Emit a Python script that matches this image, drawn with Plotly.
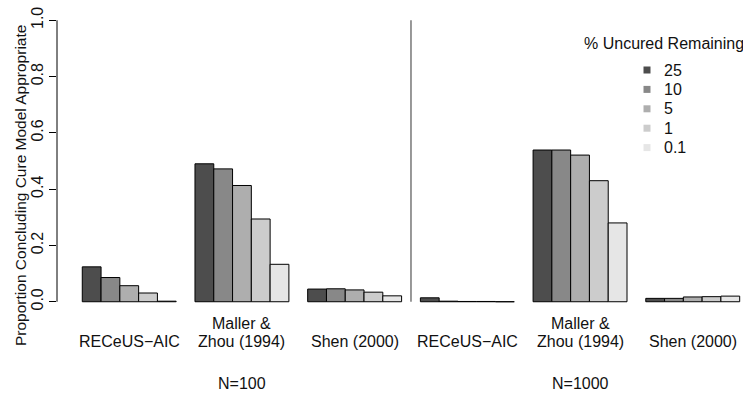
import plotly.graph_objects as go

# ---- data ----
method_labels = ["RECeUS\u2212AIC", "Maller &<br>Zhou (1994)", "Shen (2000)",
                 "RECeUS\u2212AIC", "Maller &<br>Zhou (1994)", "Shen (2000)"]
sample_labels = ["N=100", "N=1000"]
series_names = ["25", "10", "5", "1", "0.1"]
series_values = {
    "25":  [0.124, 0.490, 0.045, 0.014, 0.539, 0.012],
    "10":  [0.086, 0.472, 0.046, 0.002, 0.539, 0.012],
    "5":   [0.057, 0.413, 0.042, 0.001, 0.521, 0.017],
    "1":   [0.031, 0.294, 0.034, 0.001, 0.430, 0.018],
    "0.1": [0.002, 0.133, 0.021, 0.000, 0.280, 0.020],
}
series_colors = ["#4D4D4D", "#888888", "#AEAEAE", "#CCCCCC", "#E6E6E6"]
y_ticks = [0.0, 0.2, 0.4, 0.6, 0.8, 1.0]
y_title = "Proportion Concluding Cure Model Appropriate"
legend_title = "% Uncured Remaining"

FONT = "Liberation Sans, Arial, Helvetica, sans-serif"
W, H = 743, 395
ML, MR, MT, MB = 57, 0, 9, 82
PW, PH = W - ML - MR, H - MT - MB


def px_x(p):
    return (p - ML) / PW


def px_y(p):
    return (H - MB - p) / PH


xpos = list(range(len(method_labels)))

fig = go.Figure()
for name, col in zip(series_names, series_colors):
    fig.add_trace(go.Bar(
        x=xpos, y=series_values[name], name=name,
        marker=dict(color=col, line=dict(color="black", width=1)),
        showlegend=False,
    ))

# x range so that bars sit like the reference
xr = [-0.641, -0.641 + PW / 112.7]

fig.update_layout(
    width=W, height=H,
    margin=dict(l=ML, r=MR, t=MT, b=MB, pad=0),
    paper_bgcolor="white", plot_bgcolor="white",
    font=dict(family=FONT, size=16, color="#111"),
    barmode="group", bargap=1/6, bargroupgap=0,
    xaxis=dict(range=xr, showticklabels=False, showgrid=False, zeroline=False,
               showline=False, ticks=""),
    yaxis=dict(range=[-0.04, 1.04], tickvals=y_ticks,
               ticktext=[f"{v:.1f}" for v in y_ticks],
               ticks="outside", ticklen=7, tickwidth=1, tickcolor="black",
               tickangle=-90, showgrid=False, zeroline=False, showline=False,
               tickfont=dict(size=16, color="#111")),
    showlegend=False,
)

# y axis line spanning 0..1 only
fig.add_shape(type="line", xref="paper", yref="y", x0=0, x1=0, y0=0, y1=1,
              line=dict(color="black", width=1))
# separator between sample sizes
fig.add_shape(type="line", xref="x", yref="y", x0=2.5, x1=2.5, y0=0, y1=1,
              line=dict(color="#333", width=1))

ann = []
for i, lab in enumerate(method_labels):
    lines = lab.split("<br>")
    if len(lines) == 1:
        ann.append(dict(x=i, y=0, xref="x", yref="paper", text=lines[0], showarrow=False,
                        yanchor="middle", yshift=-28.7))
    else:
        ann.append(dict(x=i, y=0, xref="x", yref="paper", text=lines[0], showarrow=False,
                        yanchor="middle", yshift=-10.3))
        ann.append(dict(x=i, y=0, xref="x", yref="paper", text=lines[1], showarrow=False,
                        yanchor="middle", yshift=-28.7))
for k, lab in enumerate(sample_labels):
    ann.append(dict(x=1 + 3 * k, y=0, xref="x", yref="paper", text=lab, showarrow=False,
                    yanchor="middle", yshift=-70))
ann.append(dict(x=0, y=px_y(186), xref="paper", yref="paper", text=y_title,
                showarrow=False, textangle=-90, xanchor="center", yanchor="middle",
                xshift=20 - ML, font=dict(size=15.5)))

# legend (title, swatches, labels)
ann.append(dict(x=px_x(581.7), y=px_y(43.3), xref="paper", yref="paper",
                text=legend_title, showarrow=False, xanchor="left", yanchor="middle"))
for j, (name, col) in enumerate(zip(series_names, series_colors)):
    cy = 70 + 19.4 * j
    fig.add_shape(type="rect", xref="paper", yref="paper",
                  x0=px_x(643.5), x1=px_x(650.5), y0=px_y(cy + 3.5), y1=px_y(cy - 3.5),
                  fillcolor=col, line=dict(width=0))
    ann.append(dict(x=px_x(661.7), y=px_y(cy), xref="paper", yref="paper",
                    text=name, showarrow=False, xanchor="left", yanchor="middle"))

fig.update_layout(annotations=ann)

fig.write_html("out.html")
